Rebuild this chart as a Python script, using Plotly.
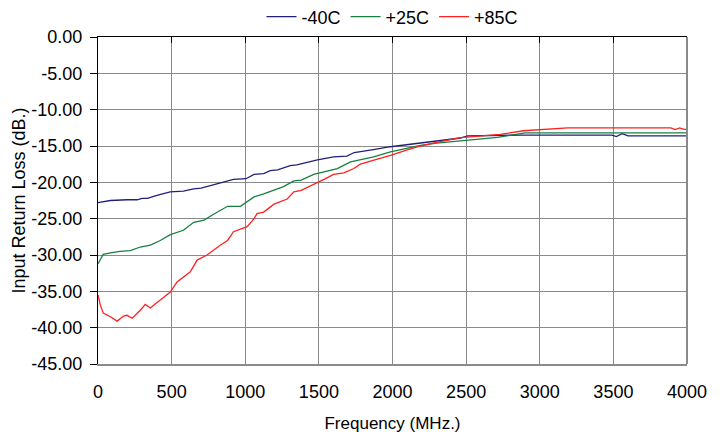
import plotly.graph_objects as go

# Frequency (MHz) and input return loss (dB)
freq_m40 = [0, 84, 200, 265, 300, 335, 400, 490, 580, 650, 700, 810, 920, 1005, 1060, 1125,
            1170, 1220, 1305, 1350, 1490, 1600, 1690, 1740, 1782, 1870, 1986, 2100, 2190,
            2300, 2462, 2510, 2700, 2870, 3000, 3200, 3490, 3520, 3560, 3600, 3800, 4000]
rl_m40 = [-22.8, -22.5, -22.4, -22.4, -22.2, -22.2, -21.8, -21.3, -21.2, -20.9, -20.8, -20.2,
          -19.6, -19.5, -18.9, -18.8, -18.4, -18.3, -17.7, -17.6, -16.9, -16.5, -16.4, -15.9,
          -15.8, -15.5, -15.1, -14.8, -14.6, -14.3, -13.9, -13.6, -13.5, -13.5, -13.5, -13.5,
          -13.5, -13.7, -13.3, -13.6, -13.6, -13.6]

freq_p25 = [0, 36, 84, 150, 220, 287, 355, 423, 491, 580, 650, 720, 785, 880, 967, 1060, 1125,
            1195, 1260, 1330, 1380, 1465, 1555, 1625, 1715, 1782, 1872, 1986, 2100, 2190, 2300,
            2485, 2600, 2713, 2900, 3200, 3600, 4000]
rl_p25 = [-31.2, -29.9, -29.7, -29.5, -29.4, -28.9, -28.65, -28.0, -27.2, -26.6, -25.5, -25.2,
          -24.4, -23.3, -23.3, -22.0, -21.6, -21.1, -20.6, -19.8, -19.7, -18.9, -18.4, -18.1,
          -17.2, -16.9, -16.5, -15.8, -15.3, -14.9, -14.6, -14.2, -14.0, -13.8, -13.2, -13.2,
          -13.2, -13.2]

freq_p85 = [0, 16, 36, 84, 130, 174, 197, 232, 287, 321, 355, 446, 491, 537, 580, 627, 673, 740,
            830, 880, 920, 1013, 1060, 1080, 1125, 1195, 1285, 1330, 1380, 1465, 1535, 1600,
            1670, 1737, 1782, 1880, 1986, 2090, 2190, 2300, 2462, 2550, 2730, 2890, 3030, 3190,
            3500, 3890, 3920, 3950, 3980, 4000]
rl_p85 = [-35.5, -36.9, -38.0, -38.5, -39.1, -38.4, -38.3, -38.7, -37.6, -36.8, -37.3, -35.8,
          -35.1, -33.7, -33.0, -32.3, -30.7, -30.0, -28.65, -28.0, -26.8, -26.1, -25.0, -24.3,
          -24.1, -23.0, -22.3, -21.3, -21.1, -20.3, -19.6, -18.9, -18.7, -18.1, -17.5, -16.9,
          -16.3, -15.6, -15.0, -14.5, -13.85, -13.7, -13.4, -12.9, -12.75, -12.5, -12.5, -12.5,
          -12.75, -12.5, -12.7, -12.7]

series_names = ["-40C", "+25C", "+85C"]
series_colors = ["#202078", "#178040", "#ff2020"]

x_ticks = [0, 500, 1000, 1500, 2000, 2500, 3000, 3500, 4000]
y_ticks = [0, -5, -10, -15, -20, -25, -30, -35, -40, -45]

FONT = "Liberation Sans, Arial, sans-serif"

fig = go.Figure()
for fx, fy, name, col in zip([freq_m40, freq_p25, freq_p85], [rl_m40, rl_p25, rl_p85],
                             series_names, series_colors):
    fig.add_trace(go.Scatter(x=fx, y=fy, mode="lines", name=name,
                             line=dict(color=col, width=1.3)))

# invisible trace on the top axis to show the crossing x axis line with ticks
fig.add_trace(go.Scatter(x=[0, 4000], y=[0, 0], xaxis="x2", mode="lines",
                         line=dict(width=0), showlegend=False, hoverinfo="skip"))

# the page body adds an 8px offset, margins compensate for it
fig.update_layout(
    width=723, height=435,
    margin=dict(l=90, r=44, t=29, b=79, autoexpand=False),
    paper_bgcolor="white", plot_bgcolor="white",
    font=dict(family=FONT, size=18, color="black"),
    showlegend=True,
    legend=dict(orientation="h", x=0.5, xanchor="center", y=1.005, yanchor="bottom",
                font=dict(size=18), itemwidth=30, tracegroupgap=0, bgcolor="rgba(0,0,0,0)"),
    xaxis=dict(range=[0, 4000], tickvals=x_ticks, ticktext=[str(v) for v in x_ticks],
               showgrid=True, gridcolor="#8a8a8a", gridwidth=1,
               showline=True, linecolor="#8a8a8a", linewidth=1.5, mirror=False,
               ticks="", zeroline=False, ticklabelstandoff=11, automargin=False,
               title=dict(text="Frequency (MHz.)", font=dict(size=17), standoff=16)),
    xaxis2=dict(range=[0, 4000], overlaying="x", side="top", tickvals=x_ticks,
                showticklabels=False, showgrid=False, zeroline=False, automargin=False,
                showline=True, linecolor="black", linewidth=1.2,
                ticks="inside", ticklen=6, tickcolor="black", tickwidth=1),
    yaxis=dict(range=[-45, 0], tickvals=y_ticks, ticktext=[f"{v:.2f}" for v in y_ticks],
               showgrid=True, gridcolor="#8a8a8a", gridwidth=1, automargin=False,
               showline=True, linecolor="black", linewidth=1.2, zeroline=False,
               ticks="outside", ticklen=7, tickcolor="black", tickwidth=1,
               ticklabelstandoff=4,
               title=dict(text="Input Return Loss (dB.)", font=dict(size=18), standoff=0)),
)

# right border of the plot area
fig.add_shape(type="line", xref="paper", yref="paper", x0=1, x1=1, y0=0, y1=1,
              line=dict(color="#8a8a8a", width=2))

fig.write_html("out.html")
